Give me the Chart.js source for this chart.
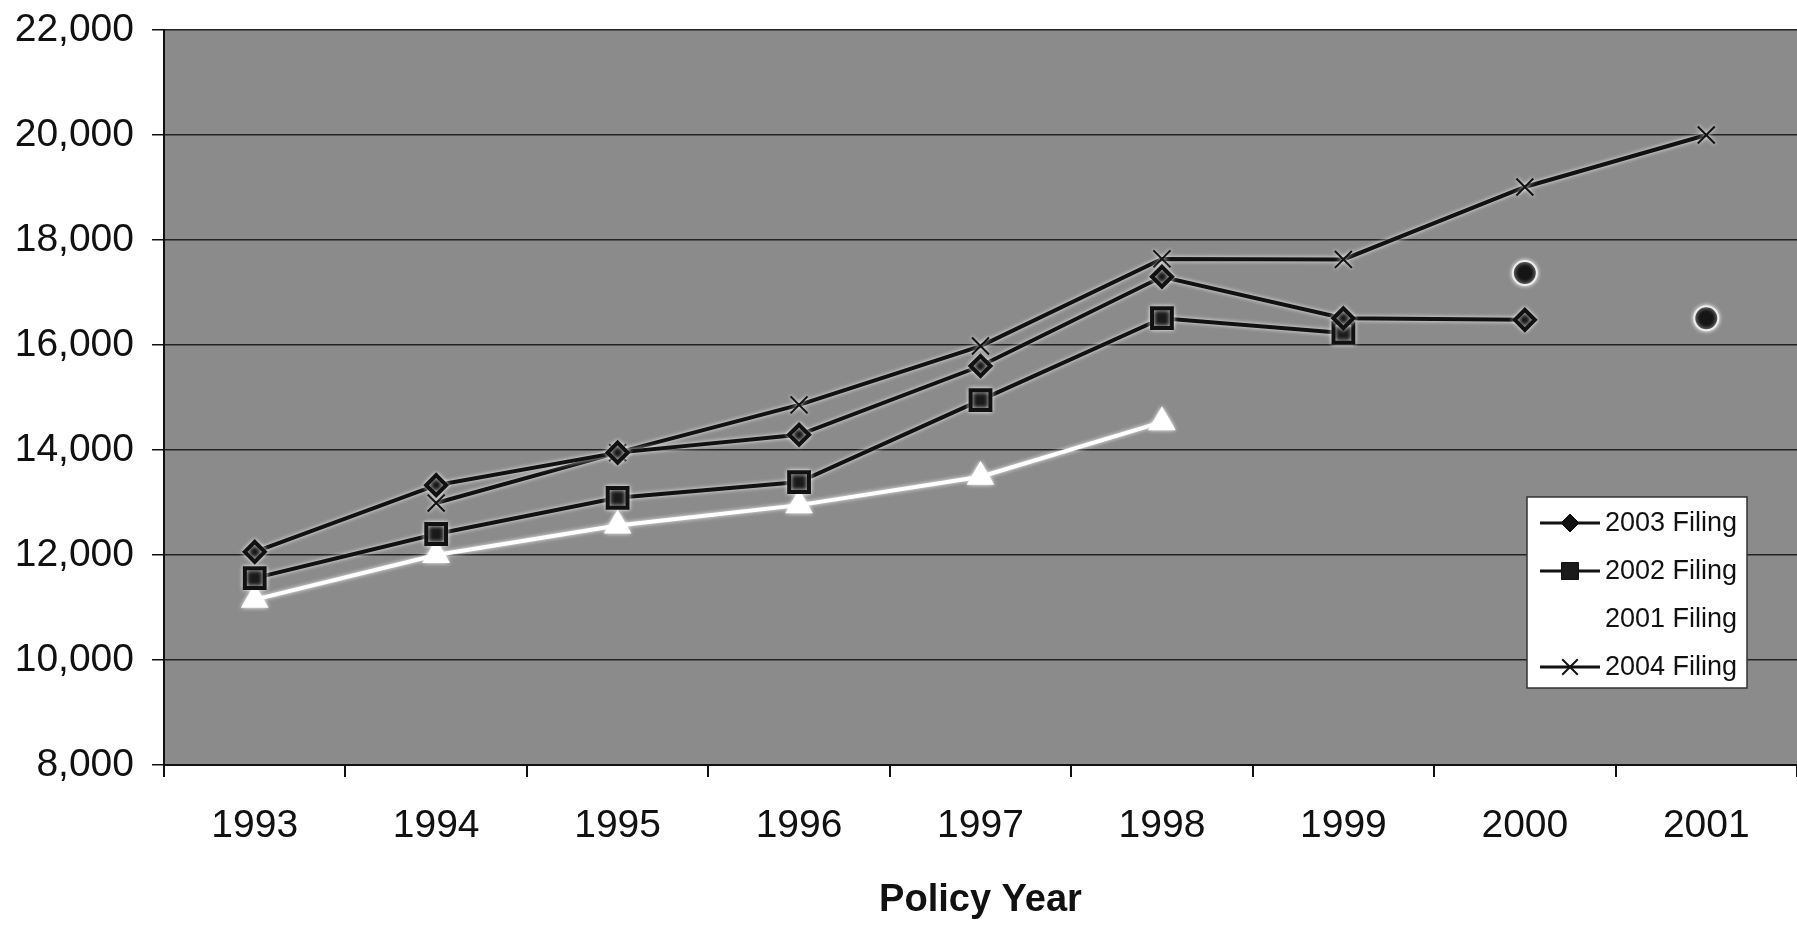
<!DOCTYPE html>
<html>
<head>
<meta charset="utf-8">
<script src="https://cdn.jsdelivr.net/npm/chart.js@4.4.1/dist/chart.umd.min.js"></script>
<style>
  html, body { margin: 0; padding: 0; background: #ffffff; }
  #wrap { width: 1797px; height: 936px; position: relative; }
</style>
</head>
<body>
<div id="wrap"><canvas id="filingChart"></canvas></div>
<script>
// policy years on the x axis
const years = ['1993', '1994', '1995', '1996', '1997', '1998', '1999', '2000', '2001'];

// values
const filing2003 = [12060, 13330, 13950, 14290, 15600, 17300, 16510, 16480, null];
const filing2002 = [11560, 12400, 13090, 13390, 14950, 16510, 16230, null, null];
const filing2001 = [11150, 12000, 12560, 12950, 13490, 14530, null, null, null];
const filing2004 = [null, 12990, 13950, 14860, 15980, 17640, 17630, 19010, 20000];
const extraPoints = [null, null, null, null, null, null, null, 17370, 16510];

const yTicks = [8000, 10000, 12000, 14000, 16000, 18000, 20000, 22000];

const axisFont = { family: '"Liberation Sans", Arial, sans-serif', size: 39 };

// gray plot background
const plotBg = {
    id: 'plotBg',
    beforeDraw(chart) {
        const { ctx, chartArea: a } = chart;
        ctx.save();
        ctx.fillStyle = '#8b8b8b';
        ctx.fillRect(a.left, a.top, a.right - a.left, a.bottom - a.top);
        ctx.restore();
    }
};

// light halo round the lines, like the scan
const halo = {
    id: 'halo',
    beforeDatasetsDraw(chart) {
        chart.ctx.save();
        chart.ctx.shadowColor = 'rgba(255,255,255,0.85)';
        chart.ctx.shadowBlur = 4;
    },
    afterDatasetsDraw(chart) {
        chart.ctx.restore();
    }
};

// boxed legend inside the plot, lower right
const boxLegend = {
    id: 'boxLegend',
    afterDraw(chart) {
        const { ctx, chartArea: a } = chart;
        const x = a.right - 270, y = a.top + 467, w = 220, h = 191;
        ctx.save();
        ctx.fillStyle = '#ffffff';
        ctx.fillRect(x, y, w, h);
        ctx.strokeStyle = '#333';
        ctx.lineWidth = 1.5;
        ctx.strokeRect(x, y, w, h);
        const items = chart.data.datasets.filter(d => d.inLegend);
        items.forEach((d, i) => {
            const cy = y + 26 + i * 48;
            ctx.strokeStyle = d.borderColor;
            ctx.lineWidth = 3;
            ctx.beginPath();
            ctx.moveTo(x + 13, cy);
            ctx.lineTo(x + 73, cy);
            ctx.stroke();
            ctx.fillStyle = d.pointBackgroundColor;
            ctx.strokeStyle = d.pointBorderColor;
            ctx.lineWidth = d.pointBorderWidth || 1;
            Chart.helpers.drawPoint(ctx, {
                pointStyle: d.pointStyle,
                rotation: 0,
                radius: d.legendRadius,
                borderWidth: d.pointBorderWidth || 1
            }, x + 43, cy);
            ctx.fillStyle = '#111';
            ctx.font = '27px "Liberation Sans", Arial, sans-serif';
            ctx.textBaseline = 'middle';
            ctx.textAlign = 'left';
            ctx.fillText(d.label, x + 78, cy + 1);
        });
        ctx.restore();
    }
};

new Chart(document.getElementById('filingChart'), {
    type: 'line',
    data: {
        labels: years,
        datasets: [
            {
                label: '2003 Filing',
                data: filing2003,
                inLegend: true,
                legendRadius: 9,
                borderColor: '#111',
                borderWidth: 4,
                pointStyle: 'rectRot',
                pointRadius: 10,
                pointBackgroundColor: '#111',
                pointBorderColor: '#111'
            },
            {
                label: '2002 Filing',
                data: filing2002,
                inLegend: true,
                legendRadius: 12,
                borderColor: '#111',
                borderWidth: 4,
                pointStyle: 'rect',
                pointRadius: 14,
                pointBackgroundColor: '#1a1a1a',
                pointBorderColor: '#111'
            },
            {
                label: '2001 Filing',
                data: filing2001,
                inLegend: true,
                legendRadius: 9,
                borderColor: '#ffffff',
                borderWidth: 4,
                pointStyle: 'triangle',
                pointRadius: 12,
                pointBackgroundColor: '#ffffff',
                pointBorderColor: '#ffffff'
            },
            {
                label: '2004 Filing',
                data: filing2004,
                inLegend: true,
                legendRadius: 11,
                borderColor: '#111',
                borderWidth: 4,
                pointStyle: 'crossRot',
                pointRadius: 12,
                pointBorderWidth: 2,
                pointBackgroundColor: '#111',
                pointBorderColor: '#111'
            },
            {
                label: 'points',
                data: extraPoints,
                inLegend: false,
                showLine: false,
                pointStyle: 'circle',
                pointRadius: 12,
                pointBorderWidth: 2,
                pointBackgroundColor: '#151515',
                pointBorderColor: '#eeeeee'
            }
        ]
    },
    options: {
        responsive: true,
        maintainAspectRatio: false,
        animation: false,
        events: [],
        layout: { autoPadding: false, padding: { top: 30, right: 0, left: 0, bottom: 0 } },
        plugins: {
            legend: { display: false },
            tooltip: { enabled: false }
        },
        scales: {
            x: {
                offset: true,
                grid: {
                    offset: true,
                    drawOnChartArea: false,
                    drawTicks: true,
                    tickLength: 12,
                    color: '#111',
                    lineWidth: 2
                },
                border: { display: true, color: '#111', width: 2 },
                ticks: { color: '#111', font: axisFont, padding: 26, maxRotation: 0 },
                title: {
                    display: true,
                    text: 'Policy Year',
                    color: '#111',
                    font: { family: axisFont.family, size: 38, weight: 'bold' },
                    padding: { top: 0, bottom: 13 }
                },
                afterFit(scale) {
                    scale.height = 171;
                    scale.paddingLeft = 0;
                    scale.paddingRight = 0;
                }
            },
            y: {
                min: 8000,
                max: 22000,
                afterBuildTicks(scale) {
                    scale.ticks = yTicks.map(v => ({ value: v }));
                },
                grid: {
                    color: '#222',
                    lineWidth: 1.5,
                    drawTicks: true,
                    tickLength: 12,
                    tickColor: '#111'
                },
                border: { display: true, color: '#111', width: 2 },
                ticks: {
                    color: '#111',
                    font: axisFont,
                    padding: 18,
                    callback: v => v.toLocaleString('en-US')
                },
                afterFit(scale) {
                    scale.width = 164;
                    scale.paddingTop = 0;
                    scale.paddingBottom = 0;
                }
            }
        }
    },
    plugins: [plotBg, halo, boxLegend]
});
</script>
</body>
</html>
